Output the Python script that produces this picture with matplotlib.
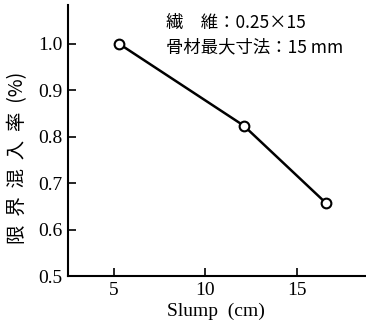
import matplotlib
matplotlib.use("Agg")
import matplotlib.pyplot as plt

slump = [5.3, 12.1, 16.6]
ratio = [1.0, 0.824, 0.657]
xticks = [5, 10, 15]
yticks = [0.5, 0.6, 0.7, 0.8, 0.9, 1.0]

fam = ['Liberation Serif', 'Noto Sans CJK JP']
plt.rcParams['font.family'] = fam

fig = plt.figure(figsize=(3.66, 3.31), dpi=100)
ax = fig.add_axes([0.186, 0.166, 0.81, 0.819])
ax.plot(slump, ratio, color='black', lw=1.8, marker='o', ms=7,
        mfc='white', mec='black', mew=1.5, zorder=3)
ax.set_xlim(2.5, 18.7)
ax.set_ylim(0.5, 1.084)
ax.set_xticks(xticks)
ax.set_yticks(yticks)
ax.set_xticklabels([str(v) for v in xticks], fontfamily='Liberation Serif', fontsize=14)
ax.set_yticklabels([f"{v:.1f}" for v in yticks], fontfamily='Liberation Serif', fontsize=14)
for s in ['top', 'right']:
    ax.spines[s].set_visible(False)
for s in ['left', 'bottom']:
    ax.spines[s].set_linewidth(1.5)
ax.tick_params(direction='in', length=6, width=1.2, pad=4)
ax.set_xlabel('Slump  (cm)', fontsize=14, labelpad=3, fontfamily='Liberation Serif')
ax.set_ylabel('限  界  混  入  率  (%)', fontsize=14,
              family=['Noto Sans CJK JP', 'DejaVu Sans'])
ax.yaxis.set_label_coords(-0.135, 0.435)
ax.text(0.33, 0.935, '繊　維：0.25×15', transform=ax.transAxes, fontsize=12.5,
        ha='left', va='center', family=['Noto Sans CJK JP', 'DejaVu Sans'])
ax.text(0.33, 0.843, '骨材最大寸法：15 mm', transform=ax.transAxes, fontsize=12.5,
        ha='left', va='center', family=['Noto Sans CJK JP', 'DejaVu Sans'])
fig.savefig('out.png', dpi=100)
